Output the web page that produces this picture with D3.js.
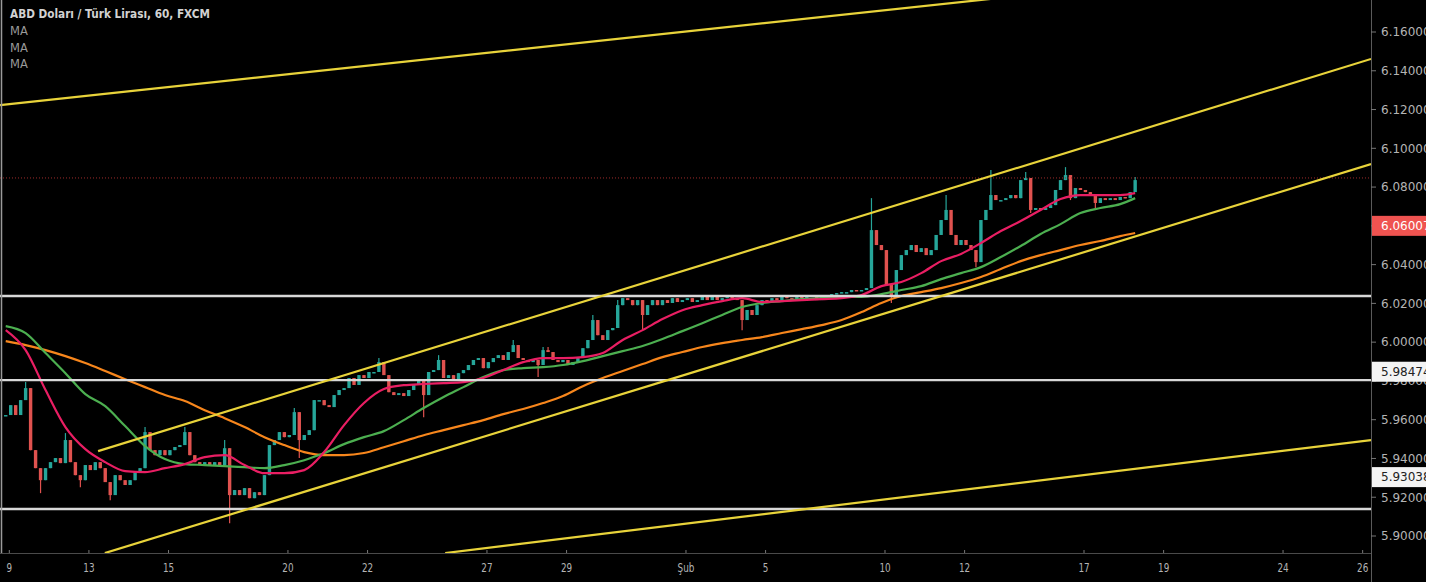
<!DOCTYPE html>
<html><head><meta charset="utf-8">
<script src="https://cdn.jsdelivr.net/npm/d3@7"></script>
<style>html,body{margin:0;padding:0;background:#fff;overflow:hidden}</style>
</head><body><svg id="c" width="1454" height="582"></svg>
<script>
// ---- data ----
const title = "ABD Doları / Türk Lirası, 60, FXCM";
const legendItems = ["MA", "MA", "MA"];
const candleStart = -0.09;   // trading day of first bar (0 = 9 Jan)
const candleStep = 0.125;    // bar length in trading days
const closes = [
5.9624,5.9675,5.9624,5.9701,5.9763,5.9443,5.9350,5.9288,5.9350,5.9381,
5.9402,5.9376,5.9495,5.9381,5.9314,5.9288,5.9366,5.9340,5.9381,5.9350,
5.9278,5.9211,5.9314,5.9288,5.9263,5.9288,5.9330,5.9350,5.9536,5.9443,
5.9417,5.9443,5.9417,5.9443,5.9459,5.9469,5.9536,5.9417,5.9381,5.9366,
5.9381,5.9366,5.9381,5.9366,5.9453,5.9211,5.9237,5.9211,5.9247,5.9195,
5.9226,5.9211,5.9314,5.9469,5.9495,5.9536,5.9510,5.9521,5.9639,5.9495,
5.9521,5.9546,5.9701,5.9701,5.9675,5.9665,5.9727,5.9753,5.9763,5.9815,
5.9779,5.9830,5.9815,5.9846,5.9846,5.9897,5.9830,5.9742,5.9727,5.9737,
5.9722,5.9753,5.9779,5.9804,5.9727,5.9846,5.9856,5.9908,5.9815,5.9830,
5.9804,5.9840,5.9856,5.9882,5.9908,5.9918,5.9866,5.9897,5.9918,5.9933,
5.9908,5.9949,5.9985,5.9918,5.9908,5.9897,5.9908,5.9882,5.9959,5.9949,
5.9908,5.9897,5.9908,5.9882,5.9897,5.9918,5.9969,6.0011,6.0114,6.0036,
6.0011,6.0062,6.0073,6.0191,6.0227,6.0217,6.0191,6.0217,6.0140,6.0191,
6.0217,6.0191,6.0217,6.0202,6.0227,6.0207,6.0217,6.0227,6.0207,6.0217,
6.0233,6.0217,6.0238,6.0217,6.0227,6.0243,6.0227,6.0217,6.0114,6.0166,
6.0140,6.0191,6.0217,6.0207,6.0227,6.0217,6.0243,6.0227,6.0217,6.0238,
6.0227,6.0243,6.0233,6.0217,6.0238,6.0243,6.0248,6.0253,6.0258,6.0258,
6.0269,6.0264,6.0269,6.0279,6.0578,6.0501,6.0475,6.0295,6.0243,6.0372,
6.0449,6.0475,6.0501,6.0465,6.0485,6.0449,6.0475,6.0553,6.0630,6.0682,
6.0553,6.0501,6.0527,6.0501,6.0475,6.0413,6.0630,6.0682,6.0759,6.0733,
6.0733,6.0743,6.0759,6.0743,6.0836,6.0847,6.0682,6.0692,6.0682,6.0692,
6.0707,6.0785,6.0836,6.0862,6.0743,6.0795,6.0785,6.0774,6.0759,6.0718,
6.0743,6.0733,6.0743,6.0733,6.0749,6.0743,6.0774,6.0836
];
// [bar index, high, low] for bars with visible wicks
const wicks = [
[4,5.9794,null],[7,null,5.9221],[12,5.9531,null],[15,null,5.9252],[21,null,5.9185],
[28,5.9562,null],[36,5.9562,null],[44,5.9495,null],[45,null,5.9066],[58,5.9660,null],
[59,null,5.9402],[75,5.9918,null],[84,null,5.9613],[87,5.9933,null],[102,6.0011,null],
[107,null,5.9820],[108,5.9975,null],[109,5.9975,null],[118,6.0140,null],[123,6.0217,null],
[128,null,6.0062],[148,null,6.0062],[174,6.0743,null],[178,null,6.0202],[189,6.0759,null],
[195,null,6.0387],[198,6.0888,null],[205,6.0878,null],[206,null,6.0666],[213,6.0903,null],
[214,null,6.0733],[219,null,6.0682],[227,6.0852,null]
];
const maStep = 4; // MA values read every 4 bars, plus the last bar
const maFast = [6.0062,5.9959,5.9753,5.9562,5.9448,5.9381,5.9335,5.9330,5.9350,5.9371,
5.9407,5.9417,5.9366,5.9324,5.9324,5.9340,5.9433,5.9572,5.9686,5.9758,
5.9778,5.9784,5.9789,5.9794,5.9815,5.9856,5.9897,5.9918,5.9918,5.9923,
5.9944,6.0011,6.0062,6.0119,6.0165,6.0191,6.0212,6.0227,6.0207,6.0212,
6.0217,6.0222,6.0227,6.0243,6.0289,6.0310,6.0356,6.0418,6.0455,6.0511,
6.0573,6.0625,6.0682,6.0738,6.0759,6.0759,6.0759,6.0769];
const maMid = [6.0083,6.0047,5.9944,5.9840,5.9732,5.9670,5.9567,5.9464,5.9397,5.9371,
5.9366,5.9360,5.9355,5.9350,5.9366,5.9391,5.9428,5.9474,5.9510,5.9541,
5.9598,5.9660,5.9717,5.9768,5.9820,5.9856,5.9866,5.9871,5.9882,5.9902,
5.9928,5.9954,5.9980,6.0016,6.0057,6.0098,6.0140,6.0181,6.0202,6.0212,
6.0222,6.0227,6.0233,6.0233,6.0248,6.0269,6.0289,6.0325,6.0356,6.0387,
6.0439,6.0496,6.0558,6.0609,6.0666,6.0692,6.0712,6.0743];
const maSlow = [6.0005,5.9985,5.9959,5.9928,5.9892,5.9851,5.9809,5.9768,5.9727,5.9696,
5.9649,5.9608,5.9562,5.9510,5.9469,5.9433,5.9417,5.9417,5.9428,5.9458,
5.9489,5.9520,5.9546,5.9572,5.9598,5.9629,5.9655,5.9686,5.9722,5.9773,
5.9815,5.9851,5.9887,5.9923,5.9949,5.9975,5.9995,6.0011,6.0026,6.0047,
6.0067,6.0088,6.0114,6.0155,6.0202,6.0238,6.0258,6.0279,6.0305,6.0336,
6.0377,6.0418,6.0449,6.0475,6.0501,6.0522,6.0547,6.0563];
// trend lines: [[day, price],[day, price]]
const trendLines = [
[[-0.234,6.1223],[34.21,6.1981]],
[[2.23,5.9438],[34.21,6.1461]],
[[2.40,5.8912],[34.21,6.0919]],
[[10.95,5.8912],[34.21,5.9495]]
];
const hLines = [6.0238, 5.9804, 5.9139];
const lastPriceLine = 6.0847;
const yTicks = [6.16,6.14,6.12,6.10,6.08,6.06,6.04,6.02,6.00,5.98,5.96,5.94,5.92,5.90];
const xTickDays = [0,2,4,7,9,12,14,17,19,22,24,27,29,32,34];
const xTickLabels = ["9","13","15","20","22","27","29","Şub","5","10","12","17","19","24","26"];
const priceBoxes = [
{v:6.0600, label:"6.06007", kind:"red"},
{v:5.98474, label:"5.98474", kind:"white"},
{v:5.93038, label:"5.93038", kind:"white"}
];

// ---- layout ----
const W = 1454, H = 582, plotR = 1371, plotB = 553, cutX = 1426;
const svg = d3.select("#c");
const x = d3.scaleLinear().domain([-0.234, 34.21]).range([0, plotR]);
const y = d3.scaleLinear().domain([5.90, 6.16]).range([536, 32]);

svg.append("rect").attr("width", W).attr("height", H).attr("fill", "#000");
svg.append("defs").append("clipPath").attr("id","pc")
  .append("rect").attr("x",0).attr("y",0).attr("width",plotR).attr("height",plotB);

const plot = svg.append("g").attr("clip-path","url(#pc)");

// candles
const bars = closes.map((c,i)=>{
  const o = i===0 ? c : closes[i-1];
  let h = Math.max(o,c), l = Math.min(o,c);
  return {t: candleStart + i*candleStep, o, c, h, l};
});
wicks.forEach(([i,hh,ll])=>{ if(hh!=null) bars[i].h = Math.max(bars[i].h,hh); if(ll!=null) bars[i].l = Math.min(bars[i].l,ll); });
const up = "#26a69a", dn = "#e0524f";
const cg = plot.append("g");
cg.selectAll("line").data(bars).join("line")
  .attr("x1",d=>x(d.t)).attr("x2",d=>x(d.t))
  .attr("y1",d=>y(d.h)).attr("y2",d=>y(d.l))
  .attr("stroke",d=>d.c>=d.o?up:dn).attr("stroke-width",1.2);
cg.selectAll("rect").data(bars).join("rect")
  .attr("x",d=>x(d.t)-1.7).attr("width",3.4)
  .attr("y",d=>y(Math.max(d.o,d.c)))
  .attr("height",d=>Math.max(1.5,y(Math.min(d.o,d.c))-y(Math.max(d.o,d.c))))
  .attr("fill",d=>d.c>=d.o?up:dn);

// moving averages
const maIdx = d3.range(0, closes.length-3, maStep).concat([closes.length-1]);
const maLine = d3.line().x((d,k)=>x(candleStart+maIdx[k]*candleStep)).y(d=>y(d)).curve(d3.curveMonotoneX);
[[maSlow,"#f7861c"],[maMid,"#4caf50"],[maFast,"#e91e63"]].forEach(([arr,col])=>{
  plot.append("path").attr("d",maLine(arr)).attr("fill","none").attr("stroke",col).attr("stroke-width",2.2);
});

// last price dotted line
plot.append("line").attr("x1",0).attr("x2",plotR).attr("y1",y(lastPriceLine)).attr("y2",y(lastPriceLine))
  .attr("stroke","#9c2b2b").attr("stroke-width",1).attr("stroke-dasharray","1,2");

// horizontal lines
hLines.forEach(v=>{
  plot.append("line").attr("x1",0).attr("x2",plotR).attr("y1",y(v)).attr("y2",y(v))
    .attr("stroke","#d8d8d8").attr("stroke-width",2.4);
});
// trend lines
trendLines.forEach(([a,b])=>{
  plot.append("line").attr("x1",x(a[0])).attr("y1",y(a[1])).attr("x2",x(b[0])).attr("y2",y(b[1]))
    .attr("stroke","#e8d33a").attr("stroke-width",2.2);
});

// left border
svg.append("line").attr("x1",1.5).attr("x2",1.5).attr("y1",0).attr("y2",plotB).attr("stroke","#9a9a9a").attr("stroke-width",1.5);

// axes
svg.append("line").attr("x1",plotR+0.5).attr("x2",plotR+0.5).attr("y1",0).attr("y2",H).attr("stroke","#5a5a5a");
svg.append("line").attr("x1",0).attr("x2",plotR).attr("y1",plotB+0.5).attr("y2",plotB+0.5).attr("stroke","#4a4a4a");
const ya = svg.append("g");
yTicks.forEach(v=>{
  ya.append("line").attr("x1",plotR).attr("x2",plotR+5).attr("y1",y(v)).attr("y2",y(v)).attr("stroke","#777");
  ya.append("text").attr("x",plotR+10).attr("y",y(v)).attr("dy","0.36em")
    .attr("font-family","DejaVu Sans").attr("font-size",12).attr("fill","#b4b4b4").text(v.toFixed(5));
});
const xa = svg.append("g");
xTickDays.forEach((d,k)=>{
  xa.append("line").attr("x1",x(d)).attr("x2",x(d)).attr("y1",plotB-3).attr("y2",plotB).attr("stroke","#777");
  xa.append("text").attr("transform",`translate(${x(d)},572) scale(0.68,1)`).attr("text-anchor","middle")
    .attr("font-family","DejaVu Sans").attr("font-size",13).attr("fill","#b4b4b4").text(xTickLabels[k]);
});

// price boxes
priceBoxes.forEach(b=>{
  const yy = y(b.v);
  svg.append("rect").attr("x",plotR+1).attr("y",yy-10).attr("width",cutX-plotR).attr("height",20)
    .attr("fill", b.kind==="red" ? "#ef5350" : "#f4f4f4");
  svg.append("text").attr("x",plotR+10).attr("y",yy).attr("dy","0.36em")
    .attr("font-family","DejaVu Sans").attr("font-size",12)
    .attr("fill", b.kind==="red" ? "#fff" : "#222").text(b.label);
});

// legend
svg.append("text").attr("x",10).attr("y",18).attr("font-family","DejaVu Sans").attr("font-weight","bold")
  .attr("font-size",12).attr("fill","#d2d2d2").attr("textLength",200).attr("lengthAdjust","spacingAndGlyphs").text(title);
legendItems.forEach((t,k)=>{
  svg.append("text").attr("x",10).attr("y",35+k*16.5).attr("font-family","DejaVu Sans")
    .attr("font-size",11.5).attr("fill","#9a9a9a").text(t);
});

// white strip on right
svg.append("rect").attr("x",cutX).attr("y",0).attr("width",W-cutX).attr("height",H).attr("fill","#fff");
</script></body></html>
